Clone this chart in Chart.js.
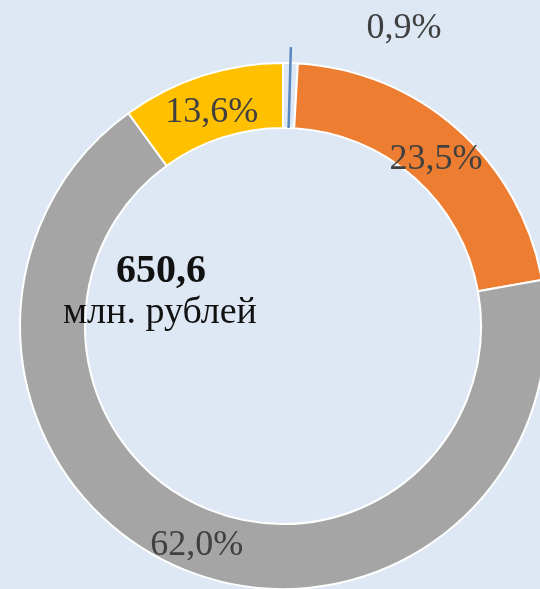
<!DOCTYPE html>
<html>
<head>
<meta charset="utf-8">
<script src="https://cdn.jsdelivr.net/npm/chart.js@4"></script>
<style>
  html, body { margin: 0; padding: 0; background: #dde8f4; overflow: hidden; }
  #wrap { position: relative; width: 540px; height: 589px; }
</style>
</head>
<body>
<div id="wrap"><canvas id="ringChart" width="540" height="589"></canvas></div>
<script>
// slices clockwise from 12 o'clock
const categories = ['A', 'B', 'C', 'D'];
const shares = [0.9, 21.3, 67.8, 10.0];            // slice sizes as drawn
const shareLabels = ['0,9%', '23,5%', '62,0%', '13,6%']; // printed labels
const sliceColors = ['#dde8f4', '#ed7d31', '#a5a5a5', '#ffc000'];
const totalValue = '650,6';
const totalUnit = 'млн. рублей';

const serif = "'Liberation Serif', 'Times New Roman', serif";

// labels, leader for the tiny slice, and the total in the hole
const ringLabels = {
  id: 'ringLabels',
  afterDatasetsDraw(chart) {
    const ctx = chart.ctx;
    const arcs = chart.getDatasetMeta(0).data;
    ctx.save();

    // leader line through the 0,9% slice
    const a0 = arcs[0];
    const mid = (a0.startAngle + a0.endAngle) / 2;
    ctx.strokeStyle = '#5b87bf';
    ctx.lineWidth = 2.5;
    ctx.beginPath();
    ctx.moveTo(a0.x + Math.cos(mid) * a0.innerRadius, a0.y + Math.sin(mid) * a0.innerRadius);
    ctx.lineTo(a0.x + Math.cos(mid) * (a0.outerRadius + 16), a0.y + Math.sin(mid) * (a0.outerRadius + 16));
    ctx.stroke();

    ctx.textAlign = 'center';
    ctx.textBaseline = 'middle';
    ctx.fillStyle = '#404040';
    ctx.font = '36px ' + serif;
    ctx.fillText(shareLabels[0], 404, 29);
    for (let i = 1; i < arcs.length; i++) {
      const p = arcs[i].tooltipPosition();
      ctx.fillText(shareLabels[i], p.x, p.y + 6);
    }

    ctx.fillStyle = '#111111';
    ctx.font = 'bold 40px ' + serif;
    ctx.fillText(totalValue, 161, 272);
    ctx.font = '38px ' + serif;
    ctx.fillText(totalUnit, 160, 313);
    ctx.restore();
  }
};

new Chart(document.getElementById('ringChart').getContext('2d'), {
  type: 'doughnut',
  data: {
    labels: categories,
    datasets: [{
      data: shares,
      backgroundColor: sliceColors,
      borderColor: '#ffffff',
      borderWidth: 2,
      clip: false
    }]
  },
  options: {
    responsive: false,
    animation: false,
    radius: 263,
    cutout: '75.3%',
    layout: { padding: { left: 26, top: 63, right: 0, bottom: 0 } },
    plugins: { legend: { display: false }, tooltip: { enabled: false } }
  },
  plugins: [ringLabels]
});
</script>
</body>
</html>
